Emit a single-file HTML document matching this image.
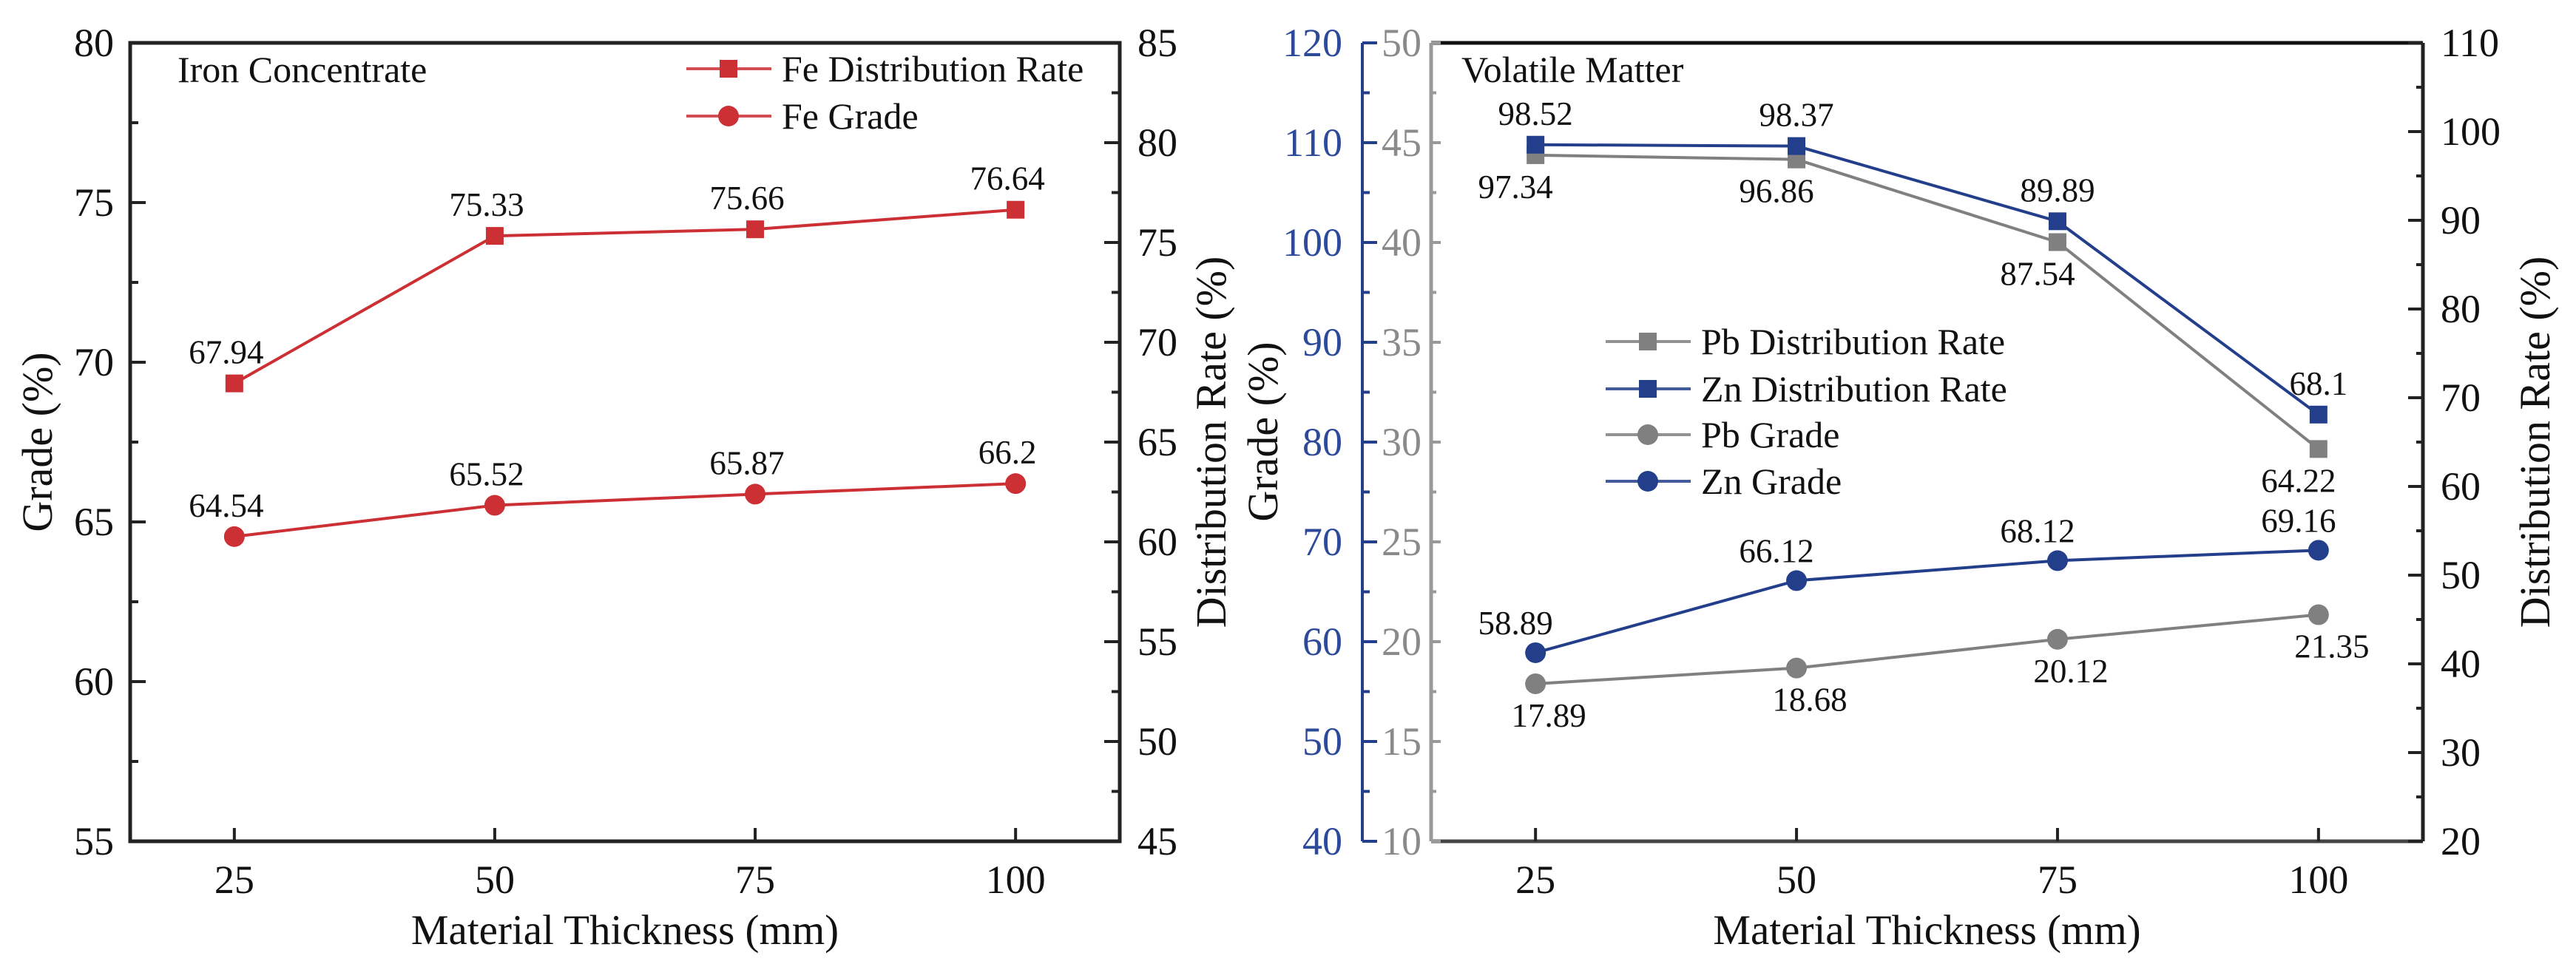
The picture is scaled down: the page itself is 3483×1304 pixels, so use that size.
<!DOCTYPE html>
<html><head><meta charset="utf-8"><style>
html,body{margin:0;padding:0;background:#fff}
svg{display:block;font-family:"Liberation Serif","Times New Roman",serif}
</style></head><body>
<svg id="chart" width="3483" height="1304" viewBox="0 0 3483 1304" xmlns="http://www.w3.org/2000/svg"></svg>
<script>
// ---- data ----
const thickness = [25, 50, 75, 100];
const xTicks = [25, 50, 75, 100];
const feDist = [67.94, 75.33, 75.66, 76.64];
const feGrade = [64.54, 65.52, 65.87, 66.2];
const pbDist = [97.34, 96.86, 87.54, 64.22];
const znDist = [98.52, 98.37, 89.89, 68.1];
const pbGrade = [17.89, 18.68, 20.12, 21.35];
const znGrade = [58.89, 66.12, 68.12, 69.16];
const leftGradeTicks = [55, 60, 65, 70, 75, 80];
const leftDistTicks = [45, 50, 55, 60, 65, 70, 75, 80, 85];
const grayTicks = [10, 15, 20, 25, 30, 35, 40, 45, 50];
const blueTicks = [40, 50, 60, 70, 80, 90, 100, 110, 120];
const rightDistTicks = [20, 30, 40, 50, 60, 70, 80, 90, 100, 110];

const svg = document.getElementById('chart');
const NS = 'http://www.w3.org/2000/svg';
function mk(tag, attrs, parent) {
  const e = document.createElementNS(NS, tag);
  for (const k in attrs) e.setAttribute(k, attrs[k]);
  (parent || svg).appendChild(e);
  return e;
}
function txt(str, x, y, size, fill, anchor, parent) {
  const t = mk('text', {x: x, y: y, 'font-size': size, fill: fill, 'text-anchor': anchor || 'middle'}, parent);
  t.textContent = str;
  return t;
}
const TOP = 58, BOT = 1138;
function lin(d0, d1, r0, r1) { return v => r0 + (v - d0) / (d1 - d0) * (r1 - r0); }

const RED = '#cc3035', BLUE = '#233f8c', GRAY = '#808080';

// ===== LEFT PANEL =====
const L0 = 176, L1 = 1514;
const xL = lin(15, 110, L0, L1);
const yLG = lin(55, 80, BOT, TOP);
const yLD = lin(45, 85, BOT, TOP);

const gL = mk('g', {});



let e;
e = mk('rect', {x: L0, y: TOP, width: L1 - L0, height: BOT - TOP, fill: 'none', stroke: '#222', 'stroke-width': 5}, gL);



leftGradeTicks.forEach((v, i) => {
  const y = yLG(v);
  mk('line', {x1: L0, x2: L0 + 21, y1: y, y2: y, stroke: '#222', 'stroke-width': 4}, gL);
  if (i < leftGradeTicks.length - 1) {
    const ym = yLG(v + 2.5);
    mk('line', {x1: L0, x2: L0 + 11, y1: ym, y2: ym, stroke: '#222', 'stroke-width': 4}, gL);
  }
  const t = txt(String(v), L0 - 22, y + 18, 54, '#111', 'end', gL);
  
  
});
leftDistTicks.forEach((v, i) => {
  const y = yLD(v);
  mk('line', {x1: L1, x2: L1 - 21, y1: y, y2: y, stroke: '#222', 'stroke-width': 4}, gL);
  if (i < leftDistTicks.length - 1) {
    const ym = yLD(v + 2.5);
    mk('line', {x1: L1, x2: L1 - 11, y1: ym, y2: ym, stroke: '#222', 'stroke-width': 4}, gL);
  }
  const t = txt(String(v), L1 + 24, y + 18, 54, '#111', 'start', gL);
  
  
});
xTicks.forEach(v => {
  const x = xL(v);
  mk('line', {x1: x, x2: x, y1: BOT, y2: BOT - 18, stroke: '#222', 'stroke-width': 4}, gL);
  const t = txt(String(v), x, 1208, 54, '#111', 'middle', gL);
  
  
});
e = txt('Material Thickness (mm)', (L0 + L1) / 2, 1277, 57, '#111', 'middle', gL);


e = txt('Grade (%)', 0, 0, 58, '#111', 'middle', gL);
e.setAttribute('transform', 'translate(70,598) rotate(-90)');


e = txt('Distribution Rate (%)', 0, 0, 58, '#111', 'middle', gL);
e.setAttribute('transform', 'translate(1657,598) rotate(-90)');


e = txt('Iron Concentrate', 240, 111, 50, '#111', 'start', gL);



function series(parent, vals, xf, yf, color, shape, name, labelDy, labelDx) {
  const g = mk('g', {}, parent);
  
  
  const pts = vals.map((v, i) => [xf(thickness[i]), yf(v)]);
  mk('polyline', {points: pts.map(p => p.join(',')).join(' '), fill: 'none', stroke: color, 'stroke-width': 4}, g);
  pts.forEach((p, i) => {
    let m;
    if (shape === 'sq') m = mk('rect', {x: p[0] - 12, y: p[1] - 12, width: 24, height: 24, fill: color}, g);
    else m = mk('circle', {cx: p[0], cy: p[1], r: 14, fill: color}, g);
    
    
    const t = txt(String(vals[i]), p[0] + labelDx, p[1] + labelDy, 45, '#111', 'middle', g);
    
    
  });
}
series(gL, feDist, xL, yLD, RED, 'sq', 'fe-distribution-rate', -27, -11);
series(gL, feGrade, xL, yLG, RED, 'ci', 'fe-grade', -27, -11);

function legend(parent, x, y, color, shape, label, name) {
  const g = mk('g', {}, parent);
  
  
  mk('line', {x1: x, x2: x + 115, y1: y, y2: y, stroke: color, 'stroke-width': 4, opacity: 0.85}, g);
  if (shape === 'sq') mk('rect', {x: x + 45, y: y - 12, width: 24, height: 24, fill: color}, g);
  else mk('circle', {cx: x + 57, cy: y, r: 14, fill: color}, g);
  txt(label, x + 129, y + 17, 50, '#111', 'start', g);
}
legend(gL, 928, 93, RED, 'sq', 'Fe Distribution Rate', 'legend-fe-distribution-rate');
legend(gL, 928, 157, RED, 'ci', 'Fe Grade', 'legend-fe-grade');

// ===== RIGHT PANEL =====
const R0 = 1935, R1 = 3276, BX = 1842;
const xR = lin(15, 110, R0, R1);
const yGray = lin(10, 50, BOT, TOP);
const yBlue = lin(40, 120, BOT, TOP);
const yRD = lin(20, 110, BOT, TOP);

const gR = mk('g', {});



e = mk('line', {x1: R0, x2: R1, y1: TOP, y2: TOP, stroke: '#111', 'stroke-width': 5}, gR);
 
e = mk('line', {x1: R1, x2: R1, y1: TOP, y2: BOT, stroke: '#222', 'stroke-width': 5}, gR);
 
e = mk('line', {x1: R0, x2: R1, y1: BOT, y2: BOT, stroke: '#444', 'stroke-width': 5}, gR);
 
e = mk('line', {x1: R0, x2: R0, y1: TOP, y2: BOT, stroke: '#999', 'stroke-width': 5}, gR);
 
e = mk('line', {x1: BX, x2: BX, y1: TOP, y2: BOT, stroke: BLUE, 'stroke-width': 4}, gR);
 

grayTicks.forEach((v, i) => {
  const y = yGray(v);
  mk('line', {x1: R0, x2: R0 + 13, y1: y, y2: y, stroke: '#999', 'stroke-width': 4}, gR);
  if (i < grayTicks.length - 1) { const ym = yGray(v + 2.5); mk('line', {x1: R0, x2: R0 + 7, y1: ym, y2: ym, stroke: '#999', 'stroke-width': 4}, gR); }
  const t = txt(String(v), 1922, y + 18, 54, '#8a8a8a', 'end', gR);
  
  
});
blueTicks.forEach((v, i) => {
  const y = yBlue(v);
  mk('line', {x1: BX, x2: BX + 20, y1: y, y2: y, stroke: BLUE, 'stroke-width': 4}, gR);
  if (i < blueTicks.length - 1) { const ym = yBlue(v + 5); mk('line', {x1: BX, x2: BX + 10, y1: ym, y2: ym, stroke: BLUE, 'stroke-width': 4}, gR); }
  const t = txt(String(v), 1815, y + 18, 54, '#2d4a9a', 'end', gR);
  
  
});
rightDistTicks.forEach((v, i) => {
  const y = yRD(v);
  mk('line', {x1: R1, x2: R1 - 20, y1: y, y2: y, stroke: '#222', 'stroke-width': 4}, gR);
  if (i < rightDistTicks.length - 1) { const ym = yRD(v + 5); mk('line', {x1: R1, x2: R1 - 9, y1: ym, y2: ym, stroke: '#222', 'stroke-width': 4}, gR); }
  const t = txt(String(v), R1 + 24, y + 18, 54, '#111', 'start', gR);
  
  
});
xTicks.forEach(v => {
  const x = xR(v);
  mk('line', {x1: x, x2: x, y1: BOT, y2: BOT - 18, stroke: '#222', 'stroke-width': 4}, gR);
  const t = txt(String(v), x, 1208, 54, '#111', 'middle', gR);
  
  
});
e = txt('Material Thickness (mm)', (R0 + R1) / 2, 1277, 57, '#111', 'middle', gR);


e = txt('Grade (%)', 0, 0, 58, '#111', 'middle', gR);
e.setAttribute('transform', 'translate(1727,584) rotate(-90)');


e = txt('Distribution Rate (%)', 0, 0, 58, '#111', 'middle', gR);
e.setAttribute('transform', 'translate(3447,598) rotate(-90)');


e = txt('Volatile Matter', 1976, 111, 50, '#111', 'start', gR);



series(gR, pbDist, xR, yRD, GRAY, 'sq', 'pb-distribution-rate', 58, -27);
series(gR, znDist, xR, yRD, BLUE, 'sq', 'zn-distribution-rate', -27, 0);
series(gR, pbGrade, xR, yGray, GRAY, 'ci', 'pb-grade', 58, 18);
series(gR, znGrade, xR, yBlue, BLUE, 'ci', 'zn-grade', -25, -27);

legend(gR, 2171, 462, GRAY, 'sq', 'Pb Distribution Rate', 'legend-pb-distribution-rate');
legend(gR, 2171, 526, BLUE, 'sq', 'Zn Distribution Rate', 'legend-zn-distribution-rate');
legend(gR, 2171, 588, GRAY, 'ci', 'Pb Grade', 'legend-pb-grade');
legend(gR, 2171, 651, BLUE, 'ci', 'Zn Grade', 'legend-zn-grade');
</script>
</body></html>
